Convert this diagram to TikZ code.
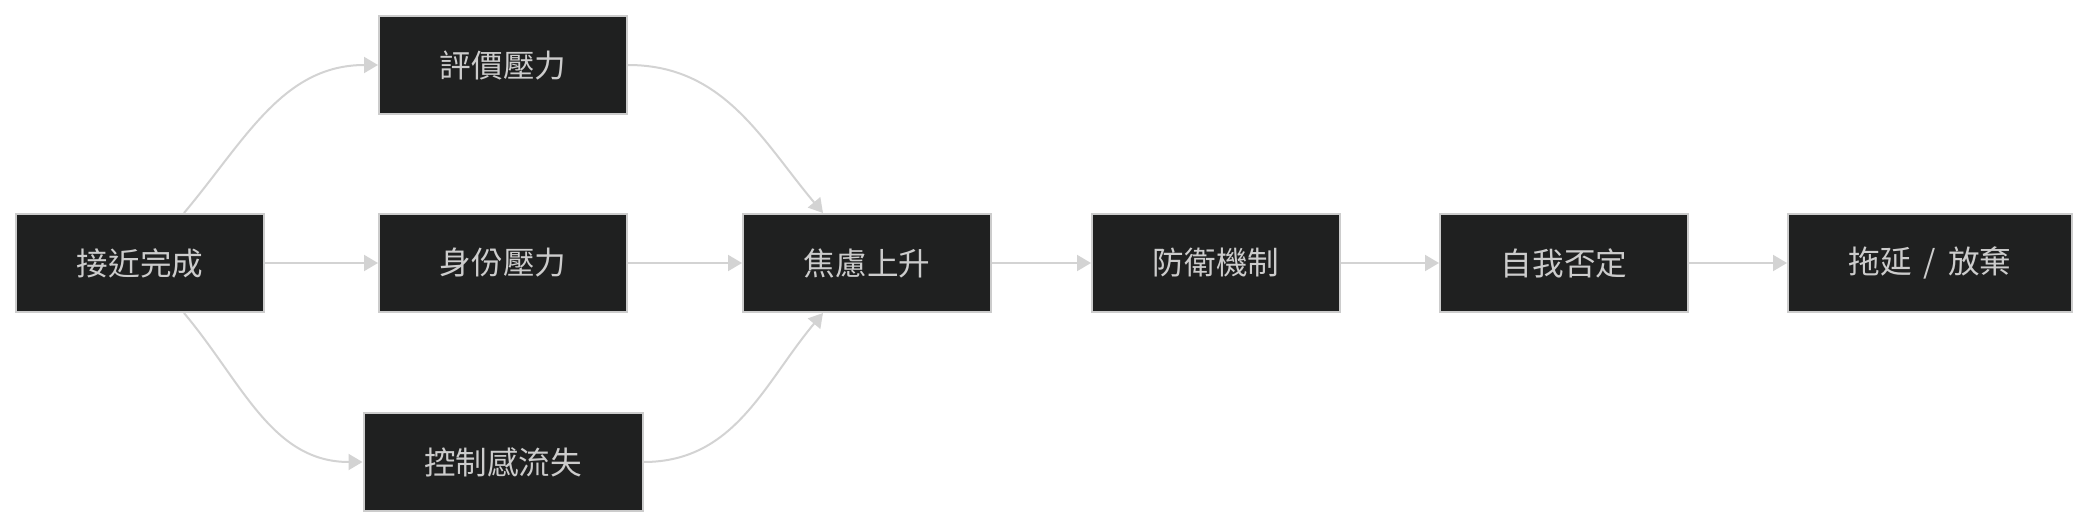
\documentclass[tikz,border=0pt]{standalone}
\usepackage{xcolor}
\usepackage{fontspec}
\usepackage{tikz}
\usetikzlibrary{arrows.meta, positioning}
\newfontfamily\cjk{Noto Sans CJK TC}
\definecolor{boxfill}{HTML}{1F2020}
\definecolor{boxline}{HTML}{CCCCCC}
\definecolor{linkgray}{HTML}{D3D3D3}

\begin{document}
\begin{tikzpicture}[x=0.5pt, y=0.5pt,
  box/.style={draw=boxline, line width=1pt, fill=boxfill, text=boxline,
    minimum width=124pt, minimum height=49pt, inner sep=0pt,
    font=\cjk\fontsize{15.8}{18}\selectfont},
  link/.style={draw=linkgray, line width=1pt, -{Triangle[length=7pt, width=8pt]}}]
\useasboundingbox (0,0) rectangle (2089,526);

% Sources
\node[box] (near) at (140,263) {接近完成};
\node[box] (judge) at (503,461) {評價壓力};
\node[box] (ident) at (503,263) {身份壓力};
\node[box, minimum width=139.5pt] (ctrl) at (503,64) {控制感流失};

% Main chain
\node[box] (anx) at (867,263) {焦慮上升};
\node[box] (defn) at (1216,263) {防衛機制};
\node[box] (self) at (1564,263) {自我否定};
\node[box, minimum width=142pt] (quit) at (1930,263) {拖延\hspace{6pt}/\hspace{6pt}放棄};

% Links
\draw[link] ([xshift=22pt]near.north) to[out=50, in=180] (judge.west);
\draw[link] (near) -- (ident);
\draw[link] ([xshift=22pt]near.south) to[out=-50, in=180] (ctrl.west);
\draw[link] (judge.east) to[out=0, in=130] ([xshift=-22pt]anx.north);
\draw[link] (ident) -- (anx);
\draw[link] (ctrl.east) to[out=0, in=-130] ([xshift=-22pt]anx.south);
\draw[link] (anx) -- (defn);
\draw[link] (defn) -- (self);
\draw[link] (self) -- (quit);
\end{tikzpicture}
\end{document}
